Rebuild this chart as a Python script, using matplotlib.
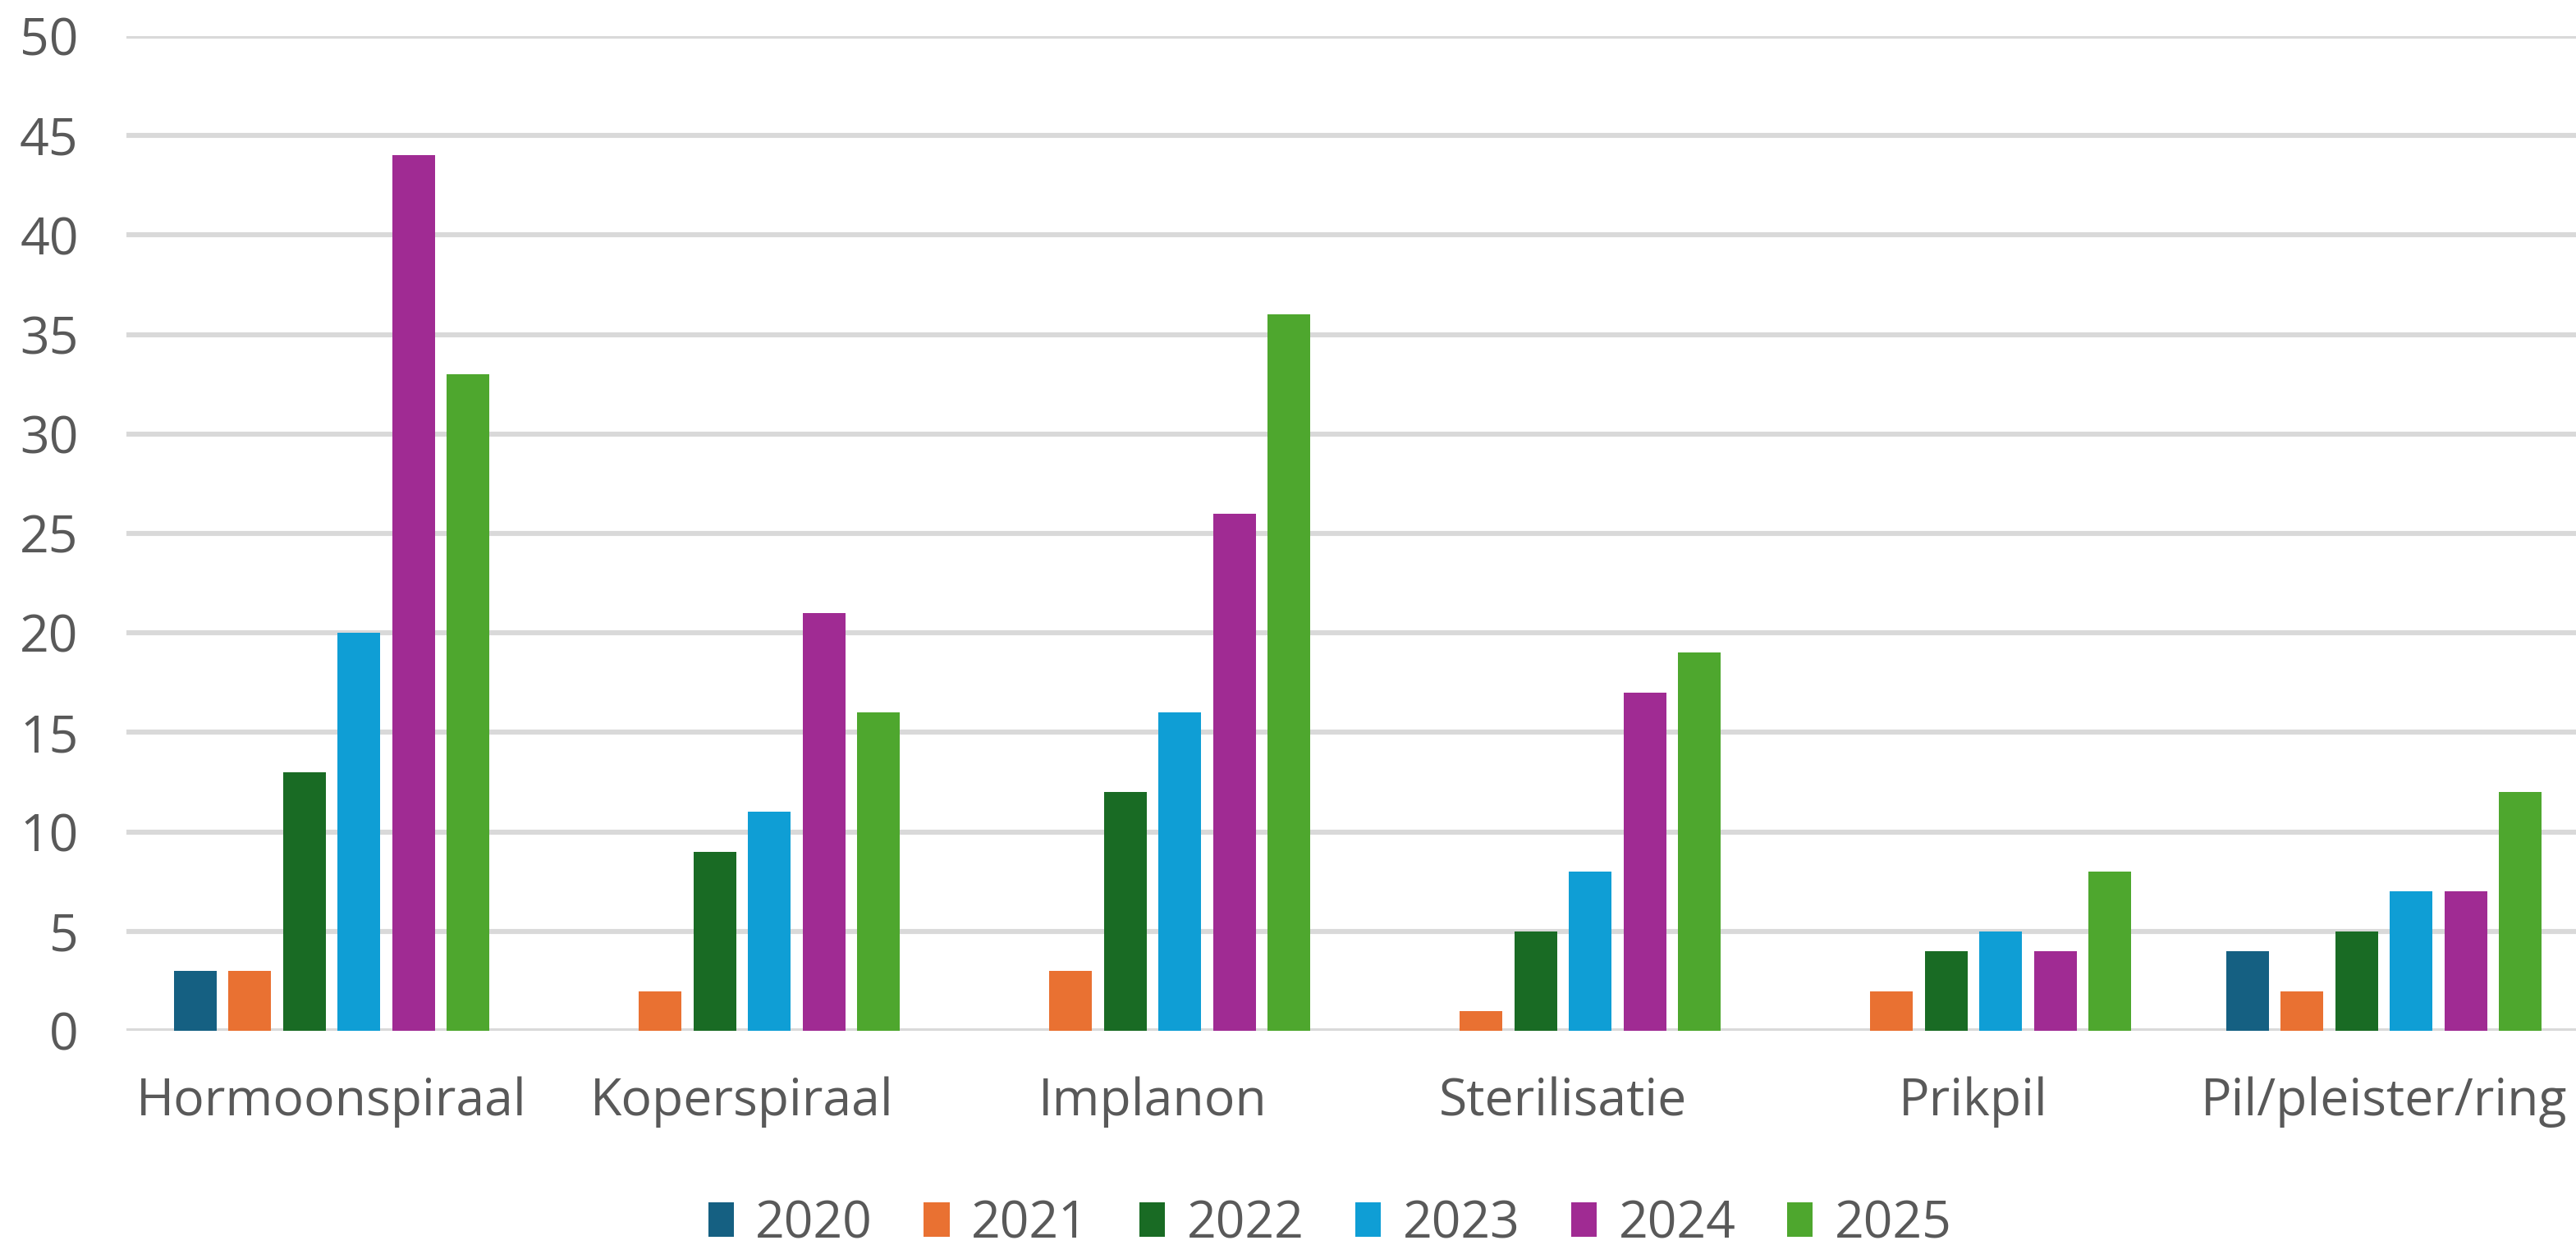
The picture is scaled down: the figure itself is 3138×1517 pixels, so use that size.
import matplotlib
matplotlib.use("Agg")
import matplotlib.pyplot as plt
import numpy as np

categories = ["Hormoonspiraal", "Koperspiraal", "Implanon", "Sterilisatie", "Prikpil", "Pil/pleister/ring"]
years = ["2020", "2021", "2022", "2023", "2024", "2025"]
v2020 = [3, 0, 0, 0, 0, 4]
v2021 = [3, 2, 3, 1, 2, 2]
v2022 = [13, 9, 12, 5, 4, 5]
v2023 = [20, 11, 16, 8, 5, 7]
v2024 = [44, 21, 26, 17, 4, 7]
v2025 = [33, 16, 36, 19, 8, 12]
series = [v2020, v2021, v2022, v2023, v2024, v2025]
colors = ["#156082", "#E97132", "#196B24", "#0F9ED5", "#A02B93", "#4EA72E"]

plt.rcParams['font.family'] = ['Open Sans', 'DejaVu Sans']
txt = "#595959"

W, H, dpi = 3138, 1517, 200
fig = plt.figure(figsize=(W / dpi, H / dpi), dpi=dpi)
ax = fig.add_axes([154 / W, 1 - 1256 / H, 3000 / W, 1212 / H])

x = np.arange(len(categories))
step = 0.133
width = 0.104
for i, (vals, c, yr) in enumerate(zip(series, colors, years)):
    ax.bar(x + (i - 2.5) * step, vals, width=width, color=c, label=yr, zorder=3)

ax.set_xlim(-0.5, len(categories) - 0.5)
ax.set_ylim(0, 50)
ax.set_yticks(range(0, 51, 5))
ax.set_xticks(x)
ax.set_xticklabels(categories)
ax.yaxis.grid(True, color="#D9D9D9", linewidth=2.2, zorder=0)
ax.set_axisbelow(True)
for s in ax.spines.values():
    s.set_visible(False)
ax.tick_params(axis="both", length=0, labelsize=22.5, labelcolor=txt)
ax.tick_params(axis="y", pad=21)
ax.tick_params(axis="x", pad=20)

fig.legend(loc="center", bbox_to_anchor=(1620 / W, 1 - 1492 / H), ncol=6, frameon=False,
           fontsize=22.5, labelcolor=txt, handlelength=0.5, handleheight=0.65,
           handletextpad=0.42, columnspacing=1.0)

fig.savefig("out.png", dpi=dpi)
